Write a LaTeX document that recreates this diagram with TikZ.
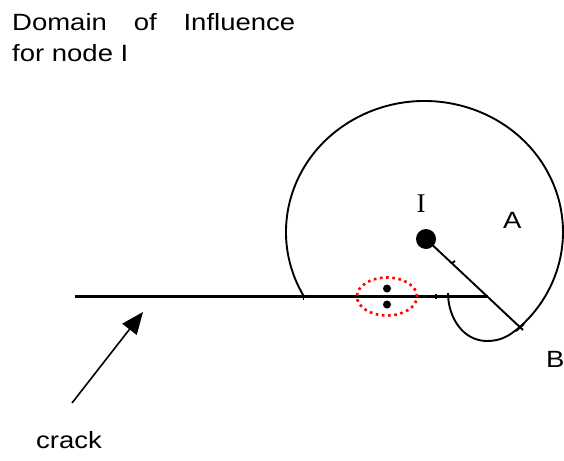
\documentclass[tikz,border=0pt]{standalone}
\usepackage{fontspec}
\usetikzlibrary{arrows.meta,calc,shapes.geometric}
\newfontfamily\labfont[FakeStretch=1.17]{Liberation Sans}
\newfontfamily\serfont{Liberation Serif}
\begin{document}
\begin{tikzpicture}[x=1pt,y=1pt,
  lab/.style={font=\labfont\fontsize{23.5}{33}\selectfont,inner sep=0pt,anchor=base west},
  edge/.style={line width=2.2pt,black},
  thin/.style={line width=1.9pt,black},
  dotnode/.style={circle,fill=black,inner sep=0pt,minimum size=#1}]
\useasboundingbox (0,0) rectangle (564,-460);
% title
\node[lab] (t1) at (12,-31) {\makebox[283pt][s]{Domain\ of\ Influence}};
\node[lab] (t2) at (12,-62) {for node I};
% crack line
\coordinate (c0) at (75,-296.5);
\coordinate (c1) at (488,-296.5);
\draw[edge] (c0) -- (c1);
% domain of influence (ellipse arc)
\coordinate (C) at (424.5,-232);
\draw[thin] (C) ++(209.1:138.5pt and 131pt) coordinate (arcS)
  arc[start angle=209.1,end angle=-46.4,x radius=138.5pt,y radius=131pt] coordinate (arcE);
\draw[thin] (arcS) -- ++(0,-4);
% node I
\node[dotnode=20pt] (I) at (426,-239) {};
\node[font=\serfont\fontsize{27}{27}\selectfont,inner sep=0pt,anchor=base] (Ilab) at (421,-212) {I};
\coordinate (Bend) at (523,-330);
\draw[thin] (I.center) -- (Bend);
\draw[thin] (516,-331) -- (524,-324);
\draw[thin] (452,-263) -- (455,-261);
% small arc
\coordinate (s0) at (448,-293);
\coordinate (sb) at (487,-341);
\draw[thin] (s0) to[out=-90,in=180] (sb) to[out=0,in=-140] (arcE);
\draw[thin] (436,-293.5) -- (436,-299);
% red dotted ellipse with two nodes
\node[draw=red,line width=2.6pt,dash pattern=on 2.6pt off 3.6pt,ellipse,minimum width=60pt,minimum height=38pt,inner sep=0pt] (E) at (387,-296.5) {};
\node[dotnode=8pt] (n1) at (387,-288.5) {};
\node[dotnode=8pt] (n2) at (387,-304.5) {};
% labels
\node[lab] (A) at (503,-228) {A};
\node[lab] (B) at (546,-367) {B};
\node[lab] (crack) at (36,-448) {crack};
\coordinate (aT) at (72,-403);
\coordinate (aH) at (143,-312);
\draw[line width=1.6pt,-{Triangle[length=22pt,width=18pt]}] (aT) -- (aH);
\end{tikzpicture}
\end{document}
